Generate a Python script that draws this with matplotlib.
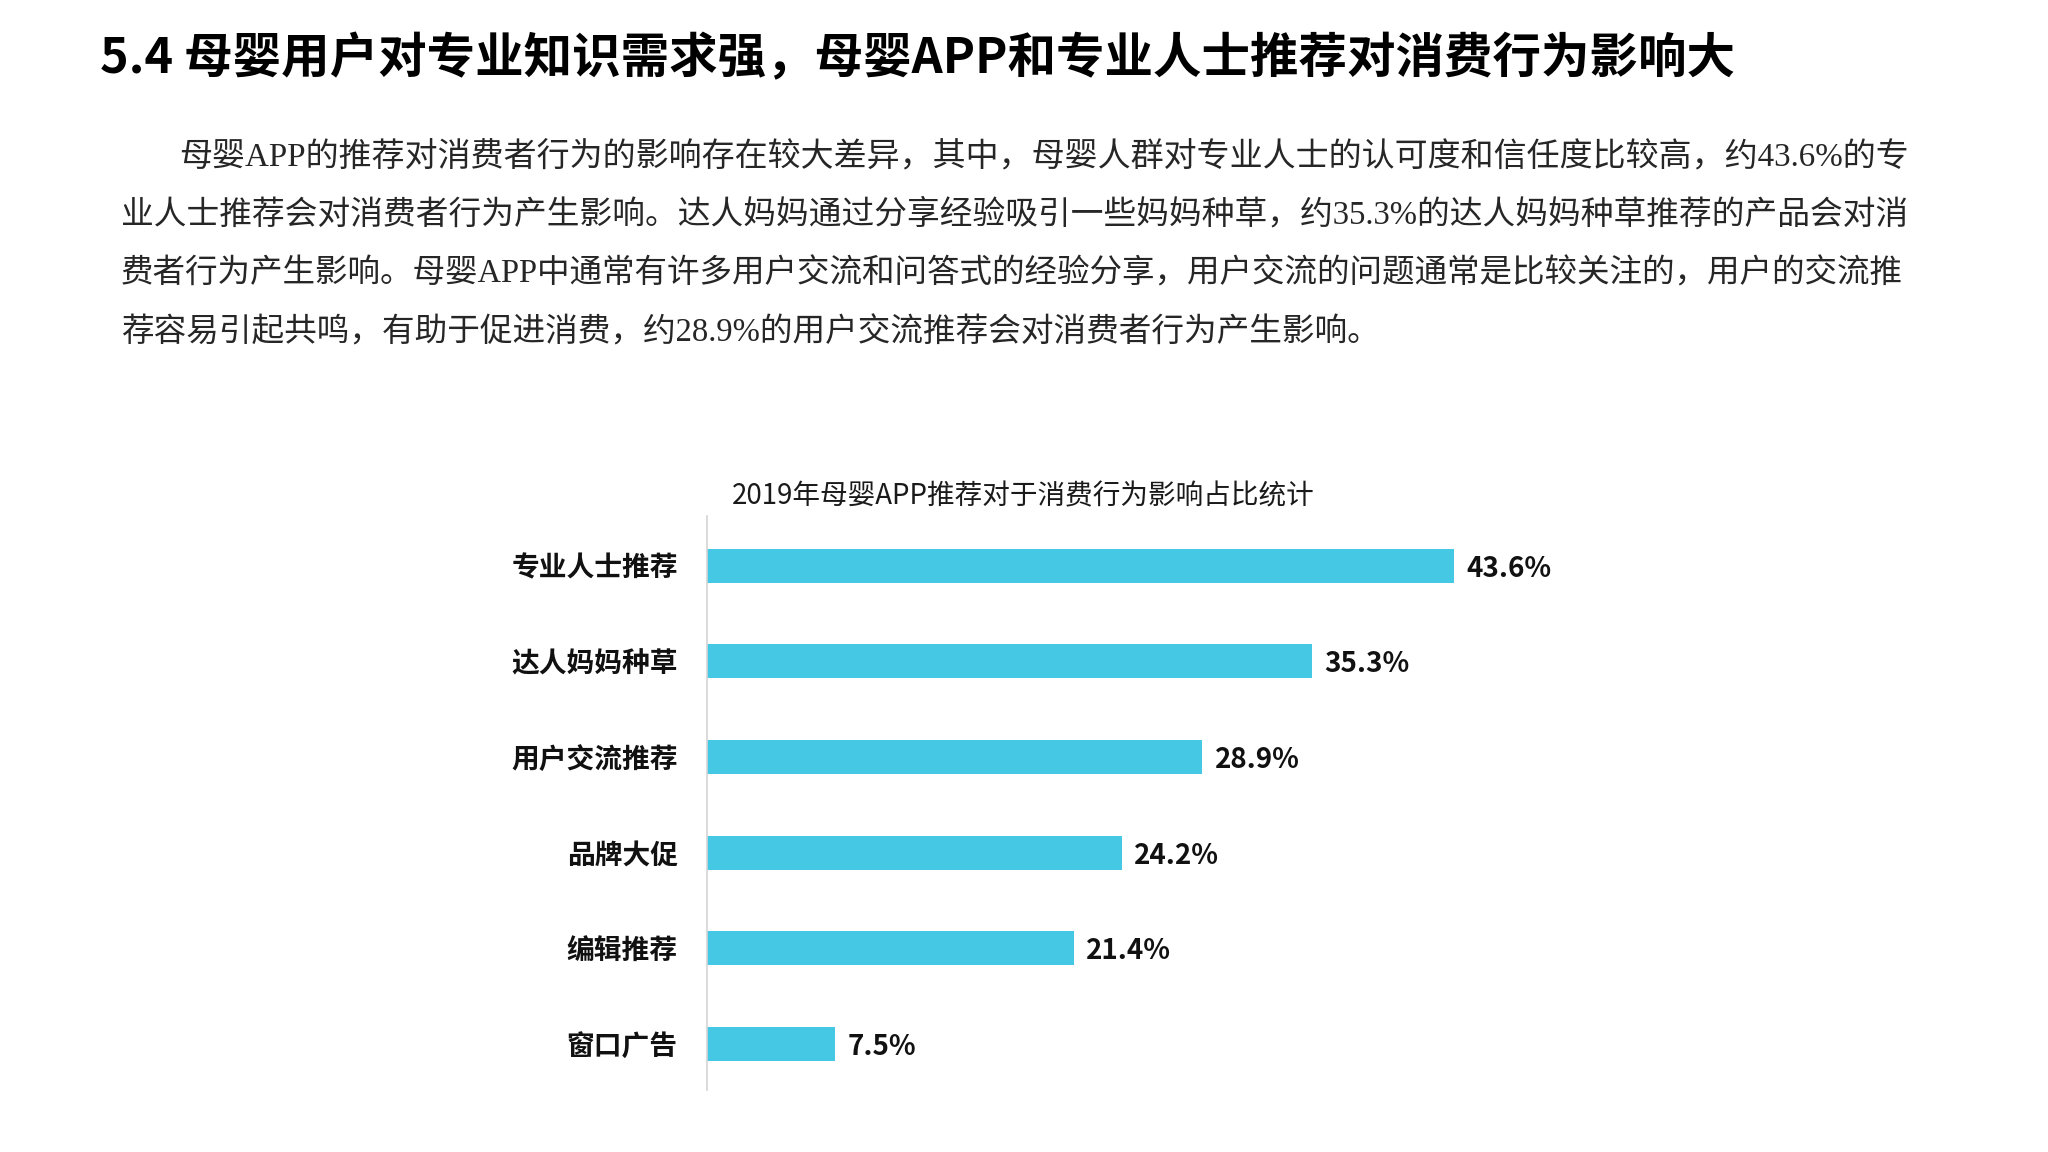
import matplotlib
matplotlib.use("Agg")
import matplotlib.pyplot as plt

plt.rcParams['font.family'] = ['Noto Sans CJK SC', 'DejaVu Sans']

categories = ["专业人士推荐", "达人妈妈种草", "用户交流推荐", "品牌大促", "编辑推荐", "窗口广告"]
values = [43.6, 35.3, 28.9, 24.2, 21.4, 7.5]
value_labels = ["43.6%", "35.3%", "28.9%", "24.2%", "21.4%", "7.5%"]

main_title = "5.4 母婴用户对专业知识需求强，母婴APP和专业人士推荐对消费行为影响大"
chart_title = "2019年母婴APP推荐对于消费行为影响占比统计"
paragraph = [
    "母婴APP的推荐对消费者行为的影响存在较大差异，其中，母婴人群对专业人士的认可度和信任度比较高，约43.6%的专",
    "业人士推荐会对消费者行为产生影响。达人妈妈通过分享经验吸引一些妈妈种草，约35.3%的达人妈妈种草推荐的产品会对消",
    "费者行为产生影响。母婴APP中通常有许多用户交流和问答式的经验分享，用户交流的问题通常是比较关注的，用户的交流推",
    "荐容易引起共鸣，有助于促进消费，约28.9%的用户交流推荐会对消费者行为产生影响。",
]

W, H = 2048, 1152
fig = plt.figure(figsize=(W / 100, H / 100), dpi=100)
fig.patch.set_facecolor("white")

def fx(px):
    return px / W

def fy(py):
    return 1 - py / H

fig.text(fx(100), fy(59), main_title, fontsize=34.9, fontweight="heavy",
         color="#000000", va="center", ha="left")

para_y = [157, 215, 274, 333]
para_x = [179, 121, 121, 121]
para_fs = [23.75, 23.55, 23.45, 23.5]
for line, x, y, fs in zip(paragraph, para_x, para_y, para_fs):
    fig.text(fx(x), fy(y), line, fontsize=fs, color="#262626",
             va="center", ha="left",
             family=["Liberation Serif", "Noto Sans CJK SC"])

fig.text(fx(1023), fy(496), chart_title, fontsize=19.9, color="#1a1a1a",
         va="center", ha="center", fontweight="medium")

left, right = 707, 707 + 50 * 17.13
top, bottom = 516, 1090
ax = fig.add_axes([fx(left), fy(bottom), (right - left) / W, (bottom - top) / H])

ypos = list(range(len(categories)))
ax.barh(ypos, values, height=0.356, color="#44c8e4")
ax.set_xlim(0, 50)
ax.set_ylim(5.48, -0.52)
ax.set_yticks(ypos)
ax.set_yticklabels(categories, fontsize=20, fontweight="bold", color="#111111")
ax.tick_params(axis="y", length=0, pad=21)
ax.set_xticks([])
for s in ["top", "right", "bottom"]:
    ax.spines[s].set_visible(False)
ax.spines["left"].set_color("#d4d4d4")
ax.spines["left"].set_linewidth(1.2)

for y, v, lab in zip(ypos, values, value_labels):
    ax.annotate(lab, xy=(v, y), xytext=(9, -2), textcoords="offset points",
                va="center", ha="left", fontsize=20, fontweight="bold",
                color="#111111")

fig.savefig("out.png", dpi=100, facecolor="white")
